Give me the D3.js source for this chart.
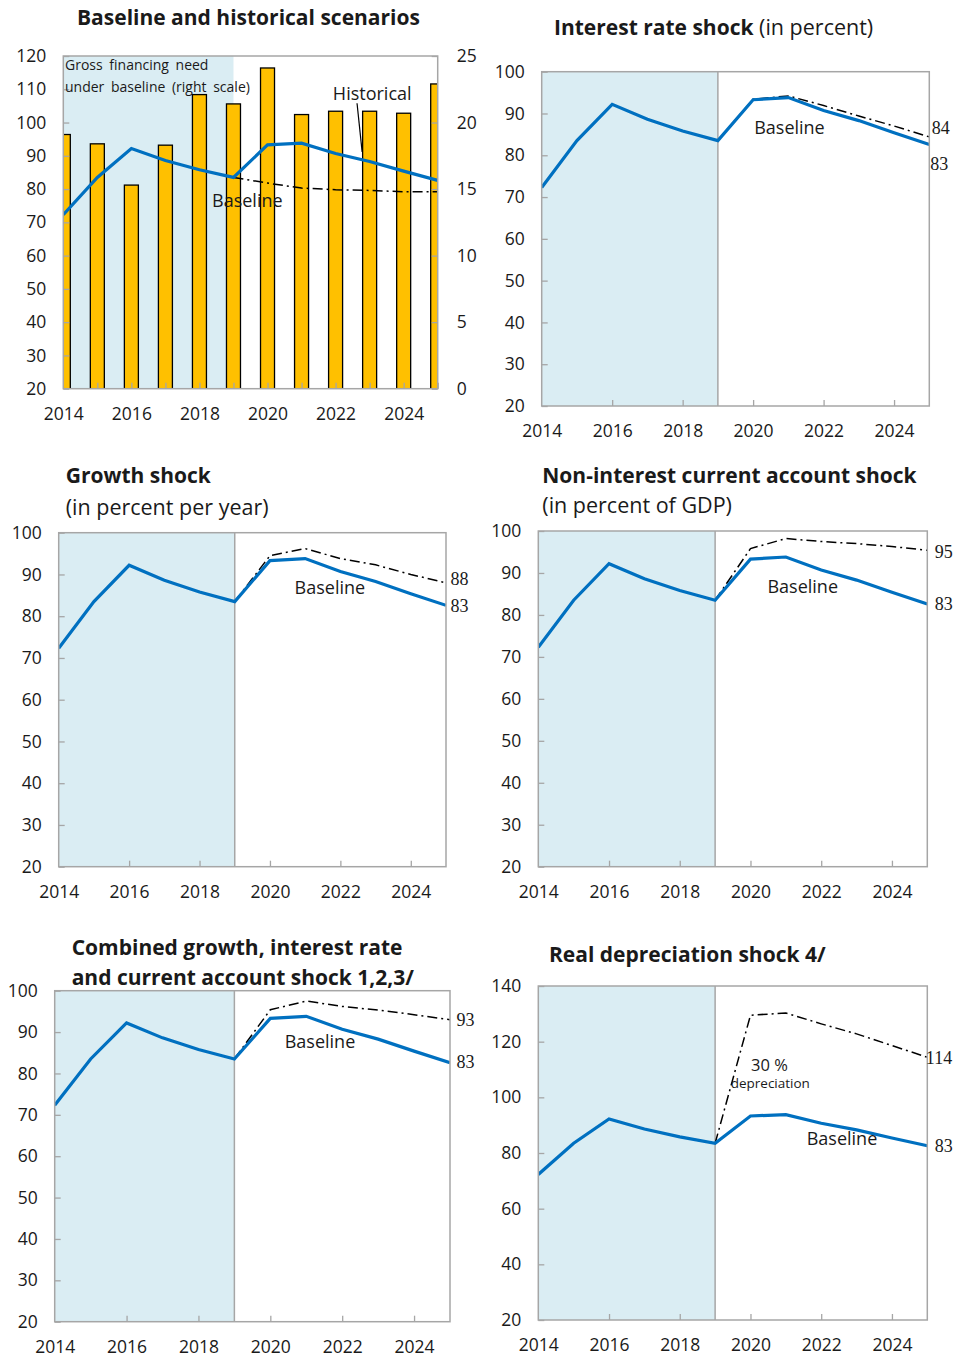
<!DOCTYPE html>
<html>
<head>
<meta charset="utf-8">
<script src="https://cdn.jsdelivr.net/npm/d3@7"></script>
<style>
  body { margin: 0; background: #fff; }
  svg { display: block; }
  text { font-family: 'Open Sans', 'Noto Sans', sans-serif; fill: #1a1a1a; }
</style>
</head>
<body>
<svg id="chart" width="958" height="1360"></svg>
<script>
// years on the x axis
var years = [2014, 2015, 2016, 2017, 2018, 2019, 2020, 2021, 2022, 2023, 2024, 2025];
var shockYears = [2019, 2020, 2021, 2022, 2023, 2024, 2025];

// debt ratio, baseline (same in all panels)
var baseline = [72.3, 83.5, 92.2, 88.6, 85.8, 83.5, 93.3, 93.8, 90.7, 88.3, 85.4, 82.6];
// gross financing need under baseline (right scale)
var gfnBaseline = [19.1, 18.4, 15.3, 18.3, 22.1, 21.4, 24.1, 20.6, 20.85, 20.85, 20.7, 22.9];

// scenario paths
var historical = [83.5, 81.8, 80.3, 79.8, 79.6, 79.2, 79.2];
var interestShock = [83.5, 93.4, 94.2, 91.9, 89.4, 87.0, 84.4];
var growthShock = [83.5, 94.5, 96.2, 93.8, 92.3, 90.0, 88.0];
var caShock = [83.5, 95.8, 98.2, 97.5, 97.0, 96.3, 95.4];
var combinedShock = [83.5, 95.4, 97.5, 96.2, 95.3, 94.2, 93.0];
var deprShock = [83.5, 129.5, 130.3, 126.4, 122.8, 118.6, 114.4];

// tick labels
var ticks120 = [20, 30, 40, 50, 60, 70, 80, 90, 100, 110, 120];
var ticks100 = [20, 30, 40, 50, 60, 70, 80, 90, 100];
var ticks140 = [20, 40, 60, 80, 100, 120, 140];
var ticksRight = [0, 5, 10, 15, 20, 25];
var xTicksAll = years;
var xTicksEven = [2014, 2016, 2018, 2020, 2022, 2024];
var xLabels = [2014, 2016, 2018, 2020, 2022, 2024];

var BLUE = "#0070c0", GREY = "#a6a6a6", SHADE = "#daedf3", BAR = "#ffc000";

var svg = d3.select("#chart");

var panels = [
  { x0: 63.3, x1: 437.7, y0: 56, y1: 388.7, yDomain: [20, 120], yTicks: ticks120, xTicks: xTicksAll,
    bars: true, divider: false, shock: historical,
    title: [{ x: 77, y: 25, parts: [["Baseline and historical scenarios", true]] }],
    endLabels: [],
    baseLabel: [2018.37, 74.6] },
  { x0: 541.7, x1: 929.3, y0: 71.7, y1: 406, yDomain: [20, 100], yTicks: ticks100, xTicks: xTicksEven,
    divider: true, shock: interestShock,
    title: [{ x: 554, y: 35, parts: [["Interest rate shock", true], [" (in percent)", false]] }],
    endLabels: [{ t: "84", v: interestShock[6], dx: 2.5, dy: -9 }, { t: "83", v: baseline[11], dx: 1, dy: 19 }],
    baseLabel: [2020.03, 85.1] },
  { x0: 58.7, x1: 446, y0: 532.7, y1: 866.7, yDomain: [20, 100], yTicks: ticks100, xTicks: xTicksEven,
    divider: true, shock: growthShock,
    title: [{ x: 65.7, y: 483, parts: [["Growth shock", true]] }, { x: 65.7, y: 515, parts: [["(in percent per year)", false]] }],
    endLabels: [{ t: "88", v: growthShock[6], dx: 4.5, dy: -4 }, { t: "83", v: baseline[11], dx: 4.5, dy: 0 }],
    baseLabel: [2020.7, 85.3] },
  { x0: 538.3, x1: 927.3, y0: 531, y1: 866.7, yDomain: [20, 100], yTicks: ticks100, xTicks: xTicksEven,
    divider: true, shock: caShock,
    title: [{ x: 542.3, y: 482.7, parts: [["Non-interest current account shock", true]] }, { x: 542.3, y: 513.3, parts: [["(in percent of GDP)", false]] }],
    endLabels: [{ t: "95", v: caShock[6], dx: 7.5, dy: 1 }, { t: "83", v: baseline[11], dx: 7.5, dy: 0 }],
    baseLabel: [2020.48, 85.2] },
  { x0: 54.7, x1: 450, y0: 990.7, y1: 1321.7, yDomain: [20, 100], yTicks: ticks100, xTicks: xTicksEven,
    divider: true, shock: combinedShock,
    title: [{ x: 71.7, y: 955, parts: [["Combined growth, interest rate", true]] }, { x: 71.7, y: 985, parts: [["and current account shock 1,2,3/", true]] }],
    endLabels: [{ t: "93", v: combinedShock[6], dx: 6.5, dy: 0 }, { t: "83", v: baseline[11], dx: 6.5, dy: -1 }],
    baseLabel: [2020.4, 86.2] },
  { x0: 538.3, x1: 927.3, y0: 986, y1: 1320, yDomain: [20, 140], yTicks: ticks140, xTicks: xTicksEven,
    divider: true, shock: deprShock,
    title: [{ x: 549, y: 961.7, parts: [["Real depreciation shock 4/", true]] }],
    endLabels: [{ t: "114", v: deprShock[6], dx: -1.5, dy: 0 }, { t: "83", v: baseline[11], dx: 7.5, dy: 0 }],
    baseLabel: [2021.59, 82.9] }
];

panels.forEach(function (p, i) { drawPanel(p, i); });

function drawPanel(p, i) {
  var g = svg.append("g");
  var x = d3.scaleLinear().domain([2014, 2025]).range([p.x0, p.x1]);
  var y = d3.scaleLinear().domain(p.yDomain).range([p.y1, p.y0]);

  // clip to plot area
  svg.append("clipPath").attr("id", "clip" + i)
    .append("rect").attr("x", p.x0).attr("y", p.y0)
    .attr("width", p.x1 - p.x0).attr("height", p.y1 - p.y0);

  // historical period shading
  g.append("rect")
    .attr("x", x(2014)).attr("y", p.y0)
    .attr("width", x(2019) - x(2014)).attr("height", p.y1 - p.y0)
    .attr("fill", SHADE);

  if (p.divider) {
    g.append("line")
      .attr("x1", x(2019)).attr("x2", x(2019))
      .attr("y1", p.y0).attr("y2", p.y1)
      .attr("stroke", GREY).attr("stroke-width", 1.5);
  }

  var inner = g.append("g").attr("clip-path", "url(#clip" + i + ")");

  if (p.bars) {
    var yR = d3.scaleLinear().domain([0, 25]).range([p.y1, p.y0]);
    inner.selectAll("rect.bar")
      .data(years.map(function (d, k) { return { year: d, v: gfnBaseline[k] }; }))
      .enter().append("rect")
      .attr("class", "bar")
      .attr("x", function (d) { return x(d.year) - 7; })
      .attr("y", function (d) { return yR(d.v); })
      .attr("width", 14)
      .attr("height", function (d) { return yR(0) - yR(d.v) + 2; })
      .attr("fill", BAR)
      .attr("stroke", "#000")
      .attr("stroke-width", 1.3);

    // right axis
    var axR = g.append("g")
      .attr("transform", "translate(" + p.x1 + ",0)")
      .call(d3.axisRight(yR).tickValues(ticksRight).tickSize(-6).tickPadding(19));
    styleAxis(axR);
    axR.selectAll("text").attr("text-anchor", "start");
  }

  var line = d3.line()
    .x(function (d) { return x(d[0]); })
    .y(function (d) { return y(d[1]); });

  inner.append("path")
    .datum(shockYears.map(function (d, k) { return [d, p.shock[k]]; }))
    .attr("d", line)
    .attr("fill", "none")
    .attr("stroke", "#000")
    .attr("stroke-width", 1.5)
    .attr("stroke-dasharray", "10,4,2,4");

  inner.append("path")
    .datum(years.map(function (d, k) { return [d, baseline[k]]; }))
    .attr("d", line)
    .attr("fill", "none")
    .attr("stroke", BLUE)
    .attr("stroke-width", 3.2)
    .attr("stroke-linejoin", "miter");

  // frame
  g.append("rect")
    .attr("x", p.x0).attr("y", p.y0)
    .attr("width", p.x1 - p.x0).attr("height", p.y1 - p.y0)
    .attr("fill", "none").attr("stroke", GREY).attr("stroke-width", 1.5);

  // axes
  var axL = g.append("g")
    .attr("transform", "translate(" + p.x0 + ",0)")
    .call(d3.axisLeft(y).tickValues(p.yTicks).tickSize(-6).tickPadding(17));
  styleAxis(axL);

  var axB = g.append("g")
    .attr("transform", "translate(0," + p.y1 + ")")
    .call(d3.axisBottom(x).tickValues(p.xTicks).tickSize(-6).tickPadding(19).tickFormat(function (d) {
      return xLabels.indexOf(d) >= 0 ? d : "";
    }));
  styleAxis(axB);
  axB.selectAll(".tick").filter(function (d) { return d === 2014; }).select("line").remove();

  // titles
  p.title.forEach(function (t) {
    var tx = svg.append("text").attr("x", t.x).attr("y", t.y).style("font-size", "21px");
    t.parts.forEach(function (pt) {
      tx.append("tspan").text(pt[0])
        .style("font-weight", pt[1] ? "700" : "400")
        .style("font-size", pt[1] ? "21px" : "21.5px");
    });
  });

  // Baseline label
  g.append("text")
    .attr("x", x(p.baseLabel[0])).attr("y", y(p.baseLabel[1]))
    .style("font-size", "18px")
    .text("Baseline");

  // end value labels
  p.endLabels.forEach(function (l) {
    g.append("text")
      .attr("x", p.x1 + l.dx).attr("y", y(l.v) + l.dy)
      .attr("dy", "0.35em")
      .style("font-family", "'Liberation Serif', 'DejaVu Serif', serif")
      .style("font-size", "18px")
      .text(l.t);
  });

  if (p.bars) {
    g.append("text").attr("x", 65).attr("y", 70).style("font-size", "14px").style("word-spacing", "3px").text("Gross financing need");
    g.append("text").attr("x", 65).attr("y", 91.5).style("font-size", "14px").style("word-spacing", "3px").text("under baseline  (right scale)");
    g.append("text").attr("x", x(2021.92)).attr("y", y(106.8)).style("font-size", "18px").text("Historical");
    g.append("line")
      .attr("x1", x(2022.63)).attr("y1", y(105.8))
      .attr("x2", x(2022.78)).attr("y2", y(91.2))
      .attr("stroke", "#000").attr("stroke-width", 1.2);
  }

  if (i === 5) {
    g.append("text").attr("x", 751).attr("y", 1070.7).style("font-size", "16.5px").text("30 %");
    g.append("text").attr("x", 730.7).attr("y", 1087.7).style("font-size", "13.5px").text("depreciation");
  }
}

function styleAxis(ax) {
  ax.select(".domain").remove();
  ax.selectAll(".tick line").attr("stroke", GREY).attr("stroke-width", 1.3);
  ax.selectAll(".tick text")
    .style("font-family", "'Open Sans', 'Noto Sans', sans-serif")
    .style("font-size", "17.5px")
    .attr("fill", "#1a1a1a");
}
</script>
</body>
</html>
